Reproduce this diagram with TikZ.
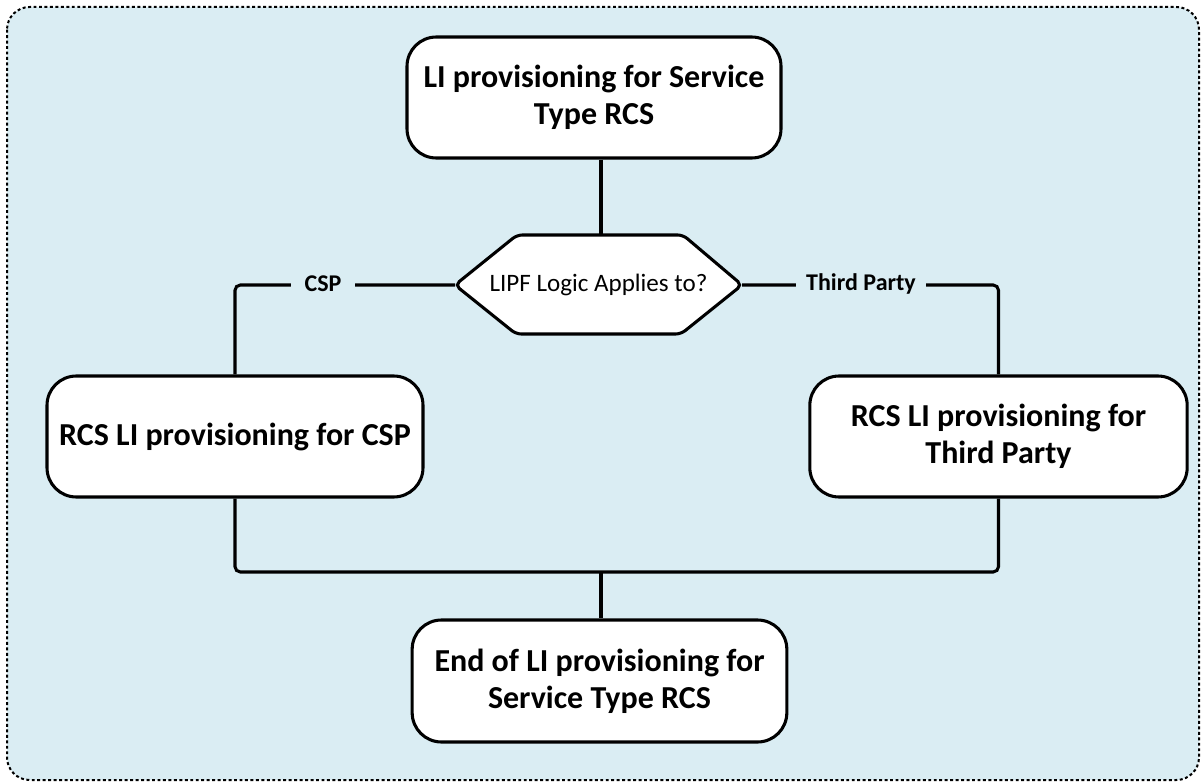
\documentclass[tikz,border=0pt]{standalone}
\usepackage{fontspec}
\setmainfont{Carlito}
\definecolor{bgblue}{RGB}{218,237,243}
\tikzset{
  procbox/.style={draw=black, fill=white, line width=2.3pt, rounded corners=22pt,
    align=center, inner sep=0pt, font=\fontsize{24}{28}\selectfont\bfseries},
  conn/.style={draw=black, line width=2.3pt, rounded corners=4pt},
  edgelabel/.style={fill=bgblue, inner xsep=8pt, inner ysep=2pt,
    font=\fontsize{18}{21}\selectfont\bfseries},
  hexshape/.style={draw=black, fill=white, line width=2.3pt, rounded corners=4pt},
}
\begin{document}
\begin{tikzpicture}[x=0.75pt, y=-0.75pt]
\useasboundingbox (0,0) rectangle (1203,784);
% background panel
\draw[fill=bgblue, draw=black, line width=1.5pt, dash pattern=on 2.2pt off 1.9pt,
  rounded corners=17pt] (7,7) rectangle (1199,780);

% nodes
\node[procbox, minimum width=280.5pt, minimum height=90.75pt] (top) at (594,97.5)
  {LI provisioning for Service\\Type RCS};
\node[procbox, minimum width=282pt, minimum height=90.75pt] (left) at (235,436.5)
  {RCS LI provisioning for CSP};
\node[procbox, minimum width=283pt, minimum height=90.75pt] (right) at (998.5,436.5)
  {RCS LI provisioning for\\Third Party};
\node[procbox, minimum width=281pt, minimum height=91.5pt] (bot) at (599.5,681)
  {End of LI provisioning for\\Service Type RCS};

% decision hexagon
\coordinate (hexL) at (455,285);
\coordinate (hexR) at (742,285);
\coordinate (hexT) at (601,235);
\draw[hexshape] (hexL) -- (517,235) -- (683,235) -- (hexR) -- (681,334) -- (516,334) -- cycle;
\node[inner sep=0pt, font=\fontsize{18.8}{22}\selectfont] (hex) at (598.5,285) {LIPF Logic Applies to?};

% connectors
\coordinate (vx) at (601,0);
\coordinate (j) at (601,572);
\draw[conn] (top.south -| vx) -- (hexT);
\draw[conn] (hexL) -| (left.north);
\draw[conn] (hexR) -| (right.north);
\draw[conn] (left.south) |- (j) -| (right.south);
\draw[conn] (j) -- (bot.north -| j);

% labels
\node[edgelabel, inner xsep=10pt] (lcsp) at (323,284) {CSP};
\node[edgelabel] (ltp) at (861,284) {Third Party};
\end{tikzpicture}
\end{document}
